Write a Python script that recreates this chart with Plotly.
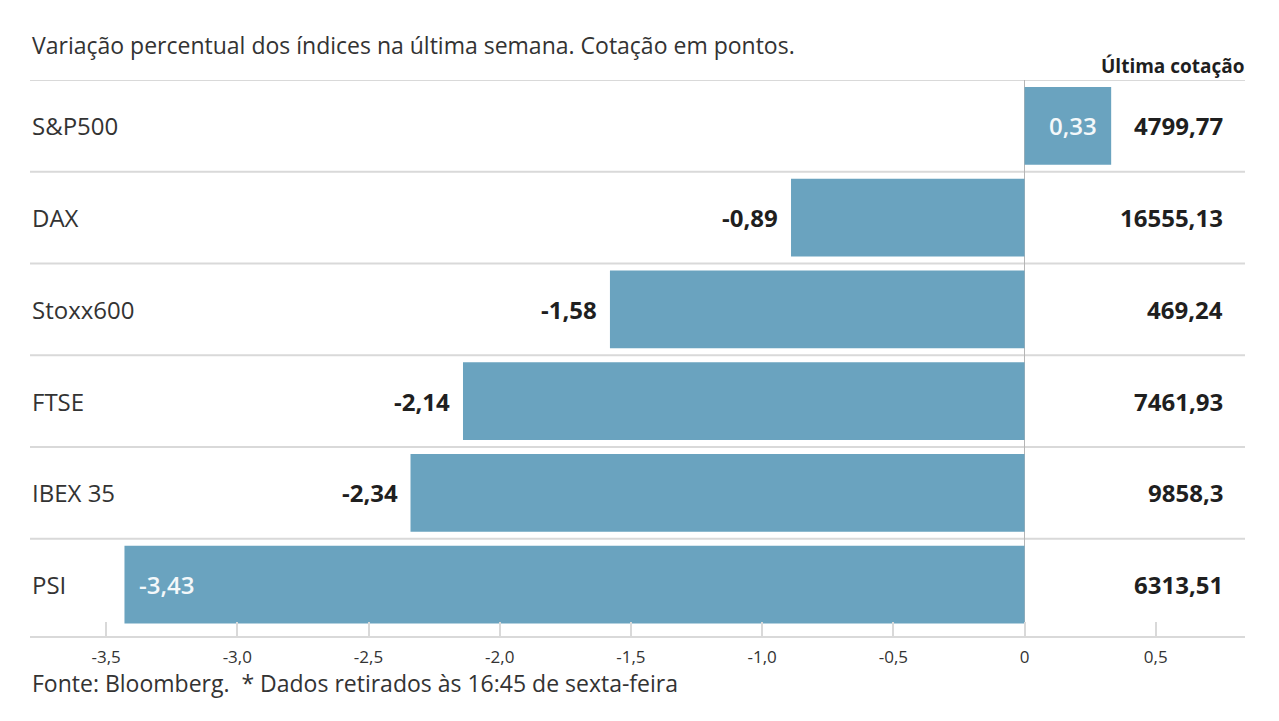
import plotly.graph_objects as go

indices = ["S&P500", "DAX", "Stoxx600", "FTSE", "IBEX 35", "PSI"]
variacao = [0.33, -0.89, -1.58, -2.14, -2.34, -3.43]
cotacao = ["4799,77", "16555,13", "469,24", "7461,93", "9858,3", "6313,51"]
tick_vals = [-3.5, -3.0, -2.5, -2.0, -1.5, -1.0, -0.5, 0, 0.5]
tick_text = ["-3,5", "-3,0", "-2,5", "-2,0", "-1,5", "-1,0", "-0,5", "0", "0,5"]

FONT = "Open Sans, Noto Sans, sans-serif"
BAR = "#6aa3bf"
TXT = "#333333"
DARK = "#1f1f1f"
GRID = "#d9d9d9"

labels = [f"{v:.2f}".replace(".", ",") for v in variacao]
inside = [(v > 0 or v < -3) for v in variacao]

fig = go.Figure()
fig.add_trace(go.Bar(
    x=variacao, y=indices, orientation="h",
    marker=dict(color=BAR, line=dict(width=0)),
    width=0.85,
    hoverinfo="skip",
))

# row separators
shapes = []
for k in range(len(indices)):
    shapes.append(dict(type="line", xref="paper", x0=0, x1=1, yref="y",
                       y0=k - 0.5, y1=k - 0.5, line=dict(color=GRID, width=2),
                       layer="below"))

annotations = []
for name, val, v, lab, ins in zip(indices, cotacao, variacao, labels, inside):
    annotations.append(dict(xref="paper", x=0, y=name, yref="y", text=name,
                            showarrow=False, xanchor="left",
                            font=dict(family=FONT, size=24, color=TXT)))
    annotations.append(dict(xref="paper", x=0.9835, y=name, yref="y", text=val,
                            showarrow=False, xanchor="right",
                            font=dict(family=FONT, size=24, color=DARK, weight="bold")))
    if ins:
        annotations.append(dict(x=v, y=name, xref="x", yref="y", text=lab,
                                showarrow=False,
                                xanchor="right" if v > 0 else "left",
                                xshift=-12 if v > 0 else 13,
                                font=dict(family=FONT, size=24, color="#f4f8fa", weight=600)))
    else:
        annotations.append(dict(x=v, y=name, xref="x", yref="y", text=lab,
                                showarrow=False, xanchor="right", xshift=-11,
                                font=dict(family=FONT, size=24, color=DARK, weight="bold")))

annotations.append(dict(xref="paper", yref="paper", x=1.002, y=1, yanchor="middle",
                        xanchor="right", yshift=14, text="<b>Última cotação</b>",
                        showarrow=False, font=dict(family=FONT, size=19, color=DARK)))
annotations.append(dict(xref="paper", yref="paper", x=0, y=1, yanchor="middle",
                        xanchor="left", yshift=35,
                        text="Variação percentual dos índices na última semana. Cotação em pontos.",
                        showarrow=False, font=dict(family=FONT, size=23, color=TXT)))
annotations.append(dict(xref="paper", yref="paper", x=0, y=0, yanchor="middle",
                        xanchor="left", yshift=-47,
                        text="Fonte: Bloomberg.  * Dados retirados às 16:45 de sexta-feira",
                        showarrow=False, font=dict(family=FONT, size=23, color=TXT)))

fig.update_layout(
    width=1279, height=721,
    margin=dict(l=22, r=42, t=72, b=93),
    paper_bgcolor="white", plot_bgcolor="white",
    showlegend=False,
    shapes=shapes, annotations=annotations,
    font=dict(family=FONT, color=TXT),
    xaxis=dict(range=[-3.79, 0.84], tickvals=tick_vals, ticktext=tick_text,
               showgrid=False, zeroline=True, zerolinecolor="#b5b5b5", zerolinewidth=1,
               showline=True, linecolor=GRID, linewidth=2,
               ticks="inside", ticklen=14, tickcolor=GRID, tickwidth=2,
               ticklabelstandoff=5,
               tickfont=dict(family=FONT, size=17, color=TXT), fixedrange=True),
    yaxis=dict(categoryorder="array", categoryarray=indices, range=[5.56, -0.5],
               showticklabels=False, showgrid=False, zeroline=False, fixedrange=True),
)

fig.write_html("out.html")
